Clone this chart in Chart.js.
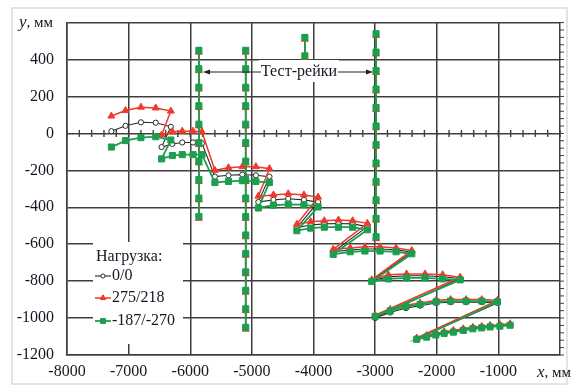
<!DOCTYPE html>
<html>
<head>
<meta charset="utf-8">
<script src="https://cdn.jsdelivr.net/npm/chart.js@4.4.1/dist/chart.umd.min.js"></script>
<style>
  html, body { margin: 0; padding: 0; background: #fff; }
  #wrap { position: relative; width: 579px; height: 386px; }
</style>
</head>
<body>
<div id="wrap"><canvas id="chart" width="579" height="386"></canvas></div>
<script>
// ---------- data (mm) ----------
// x положение точек трассы (общие для трёх нагрузок)
const xTrack = [
  -7280, -7050, -6800, -6560, -6315,
  -6465, -6290, -6130, -5955, -5810,
  -5600, -5380, -5155, -4935, -4715,
  -4895, -4650, -4410, -4155, -3925,
  -4270, -4045, -3825, -3595, -3365, -3125,
  -3680, -3405, -3165, -2920, -2660, -2405,
  -3055, -2785, -2490, -2190, -1905, -1620,
  -3000, -2755, -2500, -2270, -2010, -1775, -1525, -1270, -1015,
  -2325, -2165, -2015, -1880, -1730, -1570, -1415, -1270, -1135, -975, -810
];
// нагрузка 0/0
const yZero = [
  12, 41, 60, 58, 36,
  -74, -57, -49, -49, -53,
  -234, -227, -223, -227, -234,
  -372, -360, -354, -360, -372,
  -510, -496, -490, -488, -490, -505,
  -642, -630, -626, -626, -630, -643,
  -797, -777, -771, -771, -776, -786,
  -1000, -970, -946, -933, -918, -914, -914, -914, -918,
  -1112, -1099, -1088, -1079, -1071, -1062, -1054, -1049, -1044, -1040, -1035
];
// нагрузка 275/218
const yPlus = [
  94, 124, 142, 138, 121,
  -9, 9, 12, 12, 9,
  -200, -186, -180, -180, -191,
  -340, -333, -327, -333, -345,
  -492, -478, -473, -469, -473, -487,
  -628, -620, -614, -614, -620, -634,
  -793, -766, -761, -761, -765, -779,
  -985, -953, -930, -918, -904, -900, -900, -900, -904,
  -1108, -1094, -1083, -1074, -1067, -1058, -1050, -1045, -1040, -1036, -1031
];
// нагрузка -187/-270
const yMinus = [
  -74, -39, -23, -18, -36,
  -138, -120, -115, -115, -115,
  -266, -260, -256, -260, -266,
  -404, -389, -384, -386, -398,
  -527, -513, -508, -508, -508, -522,
  -655, -641, -637, -637, -641, -652,
  -802, -788, -782, -782, -788, -793,
  -991, -961, -938, -926, -912, -908, -908, -908, -912,
  -1115, -1103, -1092, -1083, -1076, -1067, -1058, -1053, -1048, -1044, -1039
];

// тест-рейки
const railX = [-5860, -5100, -4140, -2985];
const railY = [
  [450, 350, 250, 150, 50, -50, -150, -250, -350, -450],
  [450, 350, 250, 150, 50, -50, -150, -250, -350, -450, -550, -650, -750, -850, -950, -1050],
  [520, 420],
  [540, 440, 340, 240, 140, 40, -60, -160, -260, -360, -460, -560]
];
const railYPlus = [
  [440, 340, 240, 140, 40, -60, -160, -260, -360, -460],
  [440, 340, 240, 140, 40, -60, -160, -260, -360, -460, -560, -660, -760, -860, -960, -1060],
  [510, 410],
  [530, 430, 330, 230, 130, 30, -70, -170, -270, -370, -470, -570]
];

const xTicks = [-8000, -7000, -6000, -5000, -4000, -3000, -2000, -1000];
const yTicks = [-1200, -1000, -800, -600, -400, -200, 0, 200, 400];
const seriesNames = ["0/0", "275/218", "-187/-270"];

// ---------- styles ----------
const FONT = "'Liberation Serif', serif";
const TXT = "#141722";
const GRID = "#3e3e3e";
const RED = "#ee3a2c";
const GREEN = "#1c9e4e";
const BLACK = "#2a2a2a";

const styles = [
  { color: BLACK, pointStyle: "circle", radius: 2.6, bg: "#ffffff", line: 1.1, order: 2 },
  { color: RED, pointStyle: "triangle", radius: 4, bg: RED, line: 1.5, order: 1 },
  { color: GREEN, pointStyle: "rect", radius: 4.3, bg: GREEN, line: 1.8, order: 0 }
];

function pts(xs, ys) {
  return xs.map((x, i) => ({ x: x, y: ys[i] }));
}

function makeSet(label, data, st, isRail) {
  return {
    label: label,
    data: data,
    showLine: true,
    borderColor: st.color,
    borderWidth: st.line,
    pointStyle: st.pointStyle,
    pointRadius: st.radius,
    pointBackgroundColor: st.bg,
    pointBorderColor: st.color,
    pointBorderWidth: 1,
    order: st.order,
    rail: isRail
  };
}

const datasets = [];
const trackY = [yZero, yPlus, yMinus];
trackY.forEach((ys, k) => {
  datasets.push(makeSet(seriesNames[k], pts(xTrack, ys), styles[k], false));
});
railX.forEach((rx, r) => {
  const ysByLoad = [railY[r], railYPlus[r], railY[r]];
  ysByLoad.forEach((ys, k) => {
    datasets.push(makeSet(seriesNames[k], ys.map(y => ({ x: rx, y: y })), styles[k], true));
  });
});

// ---------- decorations ----------
const decor = {
  id: "decor",
  beforeDraw(chart) {
    const ctx = chart.ctx;
    ctx.save();
    ctx.fillStyle = "#fff";
    ctx.fillRect(0, 0, chart.width, chart.height);
    ctx.strokeStyle = "#e4e4e4";
    ctx.lineWidth = 2;
    ctx.strokeRect(12, 8, 555, 376);
    ctx.restore();
  },
  beforeDatasetsDraw(chart) {
    const ctx = chart.ctx;
    const xs = chart.scales.x, ys = chart.scales.y;
    const y0 = ys.getPixelForValue(0);
    ctx.save();
    ctx.strokeStyle = GRID;
    ctx.lineWidth = 1.4;
    // мелкие штрихи на оси x (y = 0)
    for (let v = -8000; v <= 0; v += 200) {
      const px = xs.getPixelForValue(v);
      ctx.beginPath();
      ctx.moveTo(px, y0 - 3.5);
      ctx.lineTo(px, y0 + 3.5);
      ctx.stroke();
    }
    // штрихи на правой рамке
    ctx.lineWidth = 1;
    const right = chart.chartArea.right;
    for (let v = -1200; v <= 600; v += 40) {
      const py = ys.getPixelForValue(v);
      ctx.beginPath();
      ctx.moveTo(right, py);
      ctx.lineTo(right + 4, py);
      ctx.stroke();
    }
    ctx.restore();
  },
  afterDraw(chart) {
    const ctx = chart.ctx;
    const H = Chart.helpers;
    ctx.save();

    // подписи осей
    ctx.fillStyle = TXT;
    ctx.textBaseline = "middle";
    ctx.textAlign = "left";
    ctx.font = "italic 17px " + FONT;
    ctx.fillText("y", 19, 23);
    let w = ctx.measureText("y").width;
    ctx.font = "15px " + FONT;
    ctx.fillText(", мм", 19 + w, 23);

    ctx.font = "italic 17px " + FONT;
    ctx.fillText("x", 537, 373);
    w = ctx.measureText("x").width;
    ctx.font = "15px " + FONT;
    ctx.fillText(", мм", 537 + w, 373);

    // аннотация "Тест-рейки"
    const ay = 72;
    ctx.fillStyle = "#fff";
    ctx.fillRect(259, 60, 80, 22);
    ctx.strokeStyle = "#222";
    ctx.lineWidth = 1;
    ctx.beginPath();
    ctx.moveTo(205, ay); ctx.lineTo(261, ay);
    ctx.moveTo(338, ay); ctx.lineTo(370, ay);
    ctx.stroke();
    ctx.fillStyle = "#222";
    ctx.beginPath();
    ctx.moveTo(203, ay); ctx.lineTo(210, ay - 2.5); ctx.lineTo(210, ay + 2.5); ctx.closePath();
    ctx.fill();
    ctx.beginPath();
    ctx.moveTo(373, ay); ctx.lineTo(366, ay - 2.5); ctx.lineTo(366, ay + 2.5); ctx.closePath();
    ctx.fill();
    ctx.fillStyle = TXT;
    ctx.font = "16px " + FONT;
    ctx.textAlign = "center";
    ctx.fillText("Тест-рейки", 299, ay);

    // легенда
    ctx.fillStyle = "#fff";
    ctx.fillRect(93, 242, 90, 102);
    ctx.textAlign = "left";
    ctx.fillStyle = TXT;
    ctx.font = "16px " + FONT;
    ctx.fillText("Нагрузка:", 96, 257);
    const rowsY = [276, 298, 321];
    seriesNames.forEach((name, k) => {
      const st = styles[k];
      const yy = rowsY[k];
      ctx.strokeStyle = st.color;
      ctx.lineWidth = st.line;
      ctx.beginPath();
      ctx.moveTo(95, yy); ctx.lineTo(111, yy);
      ctx.stroke();
      ctx.fillStyle = st.bg;
      ctx.strokeStyle = st.color;
      ctx.lineWidth = 1;
      H.drawPoint(ctx, { pointStyle: st.pointStyle, radius: st.radius * 0.8, borderWidth: 1 }, 103, yy);
      ctx.fillStyle = TXT;
      ctx.fillText(name, 112, yy);
    });
    ctx.restore();
  }
};

// ---------- chart ----------
new Chart(document.getElementById("chart"), {
  type: "scatter",
  data: { datasets: datasets },
  options: {
    responsive: false,
    animation: false,
    layout: { padding: { left: 0, right: 19, top: 17, bottom: 0 } },
    plugins: {
      legend: { display: false },
      tooltip: { enabled: false }
    },
    scales: {
      x: {
        type: "linear",
        min: -8000,
        max: 0,
        afterBuildTicks: s => { s.ticks = xTicks.concat([0]).map(v => ({ value: v })); },
        afterFit: s => { s.height = 31; },
        ticks: {
          callback: v => (v === 0 ? "" : String(v)),
          color: TXT,
          font: { family: FONT, size: 16 },
          padding: 7,
          maxRotation: 0,
          autoSkip: false
        },
        grid: { color: GRID, lineWidth: 1.5, drawTicks: false },
        border: { color: GRID, width: 1.5 }
      },
      y: {
        type: "linear",
        min: -1200,
        max: 600,
        afterBuildTicks: s => { s.ticks = yTicks.concat([600]).map(v => ({ value: v })); },
        afterFit: s => { s.width = 67; },
        ticks: {
          callback: v => (v === 600 ? "" : String(v)),
          color: TXT,
          font: { family: FONT, size: 16 },
          padding: 13,
          autoSkip: false
        },
        grid: { color: GRID, lineWidth: 1.5, drawTicks: false },
        border: { color: GRID, width: 1.5 }
      }
    }
  },
  plugins: [decor]
});
</script>
</body>
</html>
